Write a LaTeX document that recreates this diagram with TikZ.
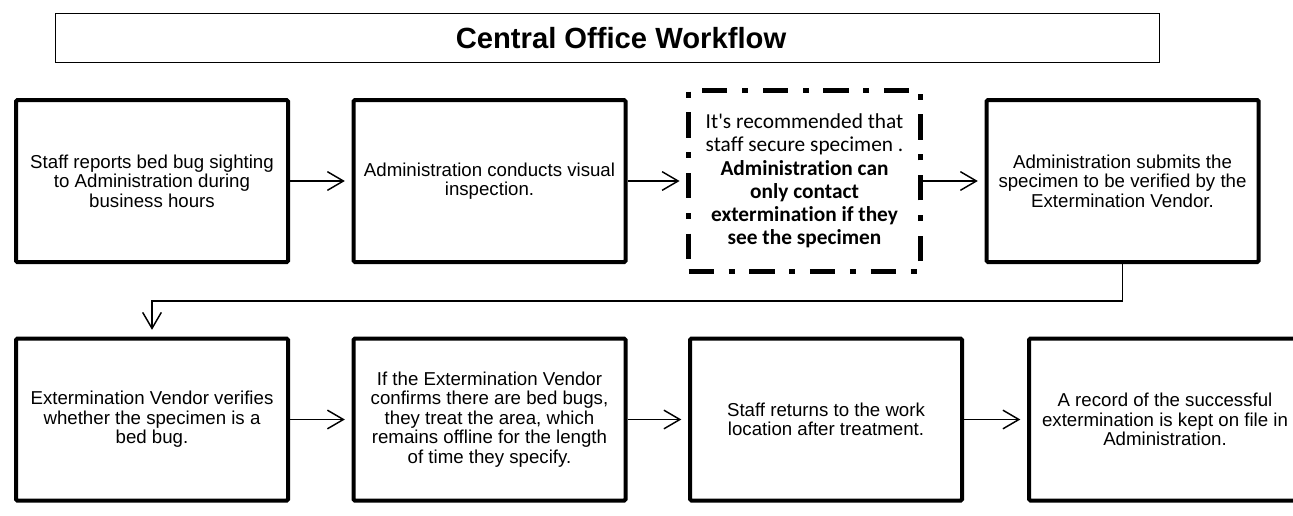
\documentclass[tikz,border=0pt]{standalone}
\usepackage{fontspec}
\setmainfont{Liberation Sans}
\newfontfamily\notefont[Ligatures={TeXOff,NoCommon}]{Carlito}
\usetikzlibrary{arrows.meta}

\begin{document}
\begin{tikzpicture}[x=0.75pt, y=-0.75pt]
    \tikzset{
        stepbox/.style={draw, line width=3pt, rounded corners=1pt, inner sep=0pt,
            minimum width=204pt, minimum height=121.5pt, align=center,
            font=\fontsize{14}{14.6}\selectfont},
        notebox/.style={draw, line width=3.4pt, inner sep=0pt,
            dash pattern=on 19pt off 11pt on 4.5pt off 11pt,
            minimum width=174pt, minimum height=136pt, align=center,
            font=\notefont\fontsize{16}{17.4}\selectfont},
        titlebox/.style={draw, line width=1.1pt, minimum width=828pt, minimum height=37pt},
        titletext/.style={font=\bfseries\fontsize{21.9}{24}\selectfont},
        flow/.style={line width=1.1pt, shorten >=5pt,
            -{Straight Barb[length=12pt, width=14pt]}}
    }

    \clip (0,0) rectangle (1293,515);

    % --- title ---
    \node[titlebox] (title) at (607.5,38) {};
    \node[titletext] (heading) at (621,38) {Central Office Workflow};

    % --- first row ---
    \node[stepbox] (report) at (152,181) {Staff reports bed bug sighting\\ to Administration during\\ business hours};
    \node[stepbox] (inspect) at (489.5,181) {Administration conducts visual\\ inspection.};
    \node[notebox] (secure) at (804.5,181) {It's recommended that\\ staff secure specimen .\\
        \textbf{Administration can}\\ \textbf{only contact}\\ \textbf{extermination if they}\\ \textbf{see the specimen}};
    \node[stepbox] (submit) at (1122.5,181) {Administration submits the\\ specimen to be verified by the\\ Extermination Vendor.};

    % --- second row ---
    \node[stepbox] (verify) at (152,419.5) {Extermination Vendor verifies\\ whether the specimen is a\\ bed bug.};
    \node[stepbox] (treat) at (489.5,419.5) {If the Extermination Vendor\\ confirms there are bed bugs,\\ they treat the area, which\\ remains offline for the length\\ of time they specify.};
    \node[stepbox] (return) at (826,419.5) {Staff returns to the work\\ location after treatment.};
    \node[stepbox] (record) at (1165,419.5) {A record of the successful\\ extermination is kept on file in\\ Administration.};

    % arrows
    \draw[flow] (report) -- (inspect);
    \draw[flow] (inspect) -- (secure);
    \draw[flow] (secure) -- (submit);
    \draw[flow] (submit.south) -- ++(0,37) -| (verify.north);
    \draw[flow] (verify) -- (treat);
    \draw[flow] (treat) -- (return);
    \draw[flow] (return) -- (record);

\end{tikzpicture}
\end{document}
